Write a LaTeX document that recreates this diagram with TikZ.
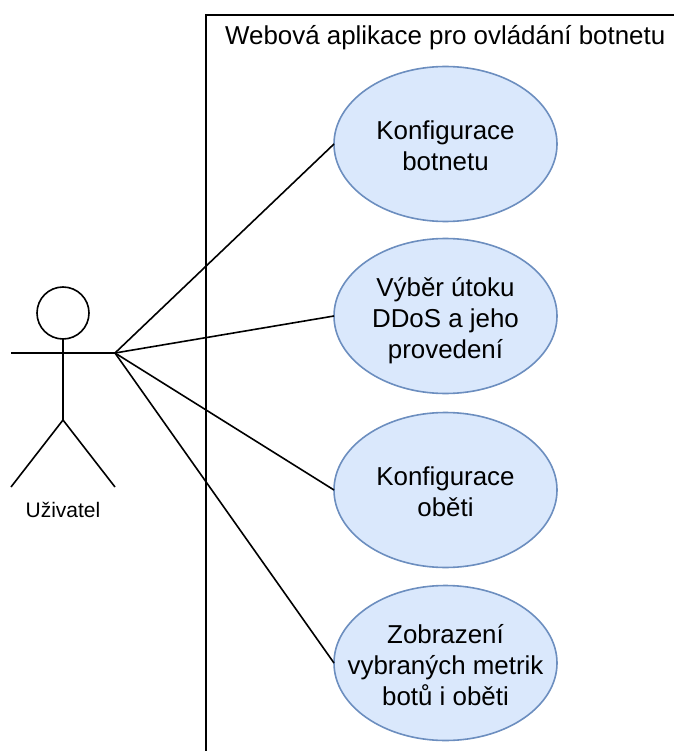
\documentclass[tikz,border=0pt]{standalone}
\usepackage{fontspec}
\setmainfont{Liberation Sans}
\usetikzlibrary{shapes.geometric}
\definecolor{fillblue}{HTML}{DAE8FC}
\definecolor{edgeblue}{HTML}{6C8EBF}
\newcommand{\uctext}[1]{\makebox[0pt]{\raisebox{-11.5pt}[0pt][0pt]{\begin{tabular}{@{}c@{}}#1\end{tabular}}}}
\tikzset{x=1pt,y=-1pt,
 usecase/.style={ellipse,draw=edgeblue,fill=fillblue,line width=1.6pt,minimum width=223pt,minimum height=155pt,inner sep=0pt,outer sep=0pt,font=\fontsize{25.9}{31}\selectfont},
 ln/.style={line width=1.6pt,black}}
\begin{document}
\begin{tikzpicture}
\useasboundingbox (0,0) rectangle (674,751);
\draw[ln] (206,751) -- (206,15) -- (674,15);
\node[anchor=west,inner sep=0pt,font=\fontsize{25.9}{31}\selectfont] (title) at (225,38) {Webová aplikace pro ovládání botnetu};
\node[usecase] (a) at (445.5,144) {\uctext{Konfigurace\\botnetu}};
\node[usecase] (b) at (445.5,316) {\uctext{Výběr útoku\\DDoS a jeho\\provedení}};
\node[usecase] (c) at (445.5,490) {\uctext{Konfigurace\\oběti}};
\node[usecase] (d) at (445.5,663) {\uctext{Zobrazení\\vybraných metrik\\botů i oběti}};
\node[circle,draw,line width=1.6pt,minimum size=52pt,inner sep=0pt,outer sep=0pt] (head) at (63,313) {};
\coordinate (hip) at (63,420);
\coordinate (armL) at (11,353);
\coordinate (armR) at (115,353);
\coordinate (footL) at (11,487);
\coordinate (footR) at (115,487);
\draw[ln] (head.south) -- (hip);
\draw[ln] (armL) -- (armR);
\draw[ln] (footL) -- (hip) -- (footR);
\node[font=\fontsize{21}{24}\selectfont,inner sep=0pt] (actor) at (63,510) {Uživatel};
\draw[ln] (armR) -- (a.west);
\draw[ln] (armR) -- (b.west);
\draw[ln] (armR) -- (c.west);
\draw[ln] (armR) -- (d.west);
\end{tikzpicture}
\end{document}
